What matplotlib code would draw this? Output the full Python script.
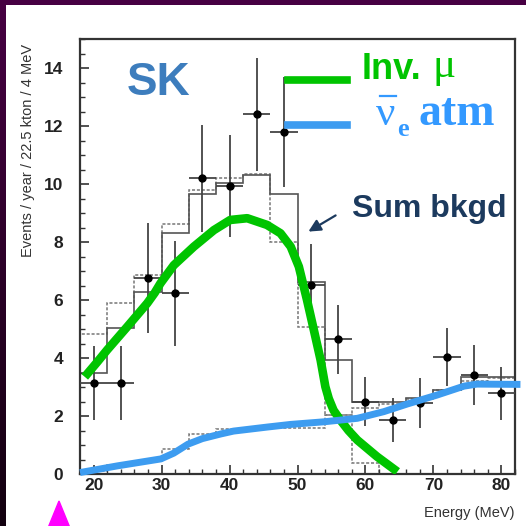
import numpy as np
import matplotlib
matplotlib.use("Agg")
import matplotlib.pyplot as plt
from matplotlib.lines import Line2D
from matplotlib.patches import Polygon

# ---------------- Data ----------------
bin_edges = np.arange(18, 83, 4)          # 4 MeV bins, 18..82
bin_centers = np.arange(20, 81, 4)

data_y = [3.13, 3.13, 6.75, 6.23, 10.2, 9.93, 12.4, 11.8,
          6.52, 4.64, 2.49, 1.86, 2.45, 4.04, 3.41, 2.78]
data_err = [1.27, 1.27, 1.9, 1.8, 1.85, 1.75, 1.95, 1.9,
            1.4, 1.2, 0.85, 0.75, 0.87, 1.0, 1.03, 0.92]

total_bkg = [3.48, 5.02, 6.29, 8.3, 9.65, 10.05, 10.3, 9.65,
             6.63, 3.93, 2.49, 2.49, 2.62, 2.9, 3.35, 3.35]
alt_bkg_edges = np.arange(18, 63, 4)
alt_bkg = [4.83, 5.9, 6.86, 8.62, 9.8, 10.2, 10.35, 8.0, 5.08, 2.03, 0.37]
atm_bkg = [0.1, 0.3, 0.45, 0.85, 1.38, 1.55, 1.6, 1.6,
           1.58, 2.03, 2.28, 2.4, 2.6, 2.9, 3.22, 3.3]

inv_mu_x = [18.7, 20.5, 22.0, 24.96, 27.9, 29.0, 29.85, 31.8, 34.75, 37.7,
            40.1, 42.6, 45.5, 47.5, 49.0, 50.2, 51.4, 52.4, 53.4, 54.1,
            54.6, 55.3, 56.3, 57.5, 58.8, 61.7, 64.7]
inv_mu_y = [3.35, 3.85, 4.28, 5.08, 5.89, 6.25, 6.58, 7.2, 7.84, 8.41,
            8.76, 8.82, 8.59, 8.3, 7.84, 7.15, 6.0, 4.97, 3.93, 3.01,
            2.6, 2.2, 1.86, 1.5, 1.17, 0.6, 0.08]

atm_x = [18.0, 23.5, 29.9, 31.8, 33.9, 36.0, 38.7, 40.6, 45.6, 49.0, 53.9,
         58.8, 62.7, 66.1, 70.5, 74.5, 76.4, 82.8]
atm_y = [0.05, 0.28, 0.52, 0.72, 1.03, 1.22, 1.38, 1.48, 1.62, 1.71, 1.80,
         1.92, 2.15, 2.41, 2.72, 3.03, 3.10, 3.09]

x_ticks = [20, 30, 40, 50, 60, 70, 80]
y_ticks = [0, 2, 4, 6, 8, 10, 12, 14]

GREEN = "#00c400"
BLUE = "#3d9cf0"
NU_BLUE = "#3399ff"
SANS = ["Liberation Sans", "DejaVu Sans"]
SERIF = ["Liberation Serif", "DejaVu Serif"]

W = 526.0
def fx(px):
    return px / W
def fy(py):
    return 1 - py / W

# ---------------- Figure ----------------
fig = plt.figure(figsize=(5.26, 5.26), dpi=100, facecolor="white")

# purple frame on top and left (left strip fades to near black)
top_ax = fig.add_axes([0, fy(4.5), 1, 4.5 / W])
top_ax.axis("off")
top_ax.add_patch(plt.Rectangle((0, 0), 1, 1, color="#470043", transform=top_ax.transAxes))
left_ax = fig.add_axes([0, 0, 5.5 / W, 1])
left_ax.axis("off")
grad = np.linspace(0, 1, 256).reshape(-1, 1)
cmap = matplotlib.colors.LinearSegmentedColormap.from_list("pb", ["#470043", "#12000f"])
left_ax.imshow(grad, aspect="auto", cmap=cmap, extent=(0, 1, 0, 1), origin="upper")

ax = fig.add_axes([fx(80), fy(474), 435 / W, 435 / W])
ax.set_xlim(18, 82)
ax.set_ylim(0, 15)

# histograms
ax.stairs(atm_bkg, bin_edges, color="#777777", lw=1.1, ls=(0, (2, 1.2)))
ax.stairs(alt_bkg, alt_bkg_edges, color="#777777", lw=1.1, ls=(0, (2, 1.2)))
ax.stairs(total_bkg, bin_edges, color="#555555", lw=1.2)

# data points
ax.errorbar(bin_centers, data_y, yerr=data_err, xerr=2, fmt="o", color="black",
            ecolor="#444444", elinewidth=1.3, markersize=5, capsize=0, zorder=4)

# model curves
ax.plot(inv_mu_x, inv_mu_y, color=GREEN, lw=6.2, solid_capstyle="butt",
        solid_joinstyle="round", zorder=5)
ax.plot(atm_x, atm_y, color=BLUE, lw=5.0, solid_capstyle="butt",
        solid_joinstyle="round", zorder=5, clip_on=False)

ax.set_xticks(x_ticks)
ax.set_yticks(y_ticks)
ax.set_xticks(np.arange(18, 83, 2), minor=True)
ax.set_yticks(np.arange(0, 15.01, 0.5), minor=True)
ax.tick_params(which="both", direction="in", top=False, right=False, color="#333333")
ax.tick_params(which="major", length=6.5, width=1.2)
ax.tick_params(which="minor", length=3.5, width=1.0)
ax.tick_params(axis="y", pad=12)
ax.tick_params(axis="x", pad=3)
for lbl in ax.get_xticklabels() + ax.get_yticklabels():
    lbl.set_fontfamily(SANS)
    lbl.set_fontweight("bold")
    lbl.set_fontsize(12.5)
    lbl.set_color("#222222")
for sp in ax.spines.values():
    sp.set_linewidth(1.6)
    sp.set_color("#333333")

# axis labels placed like the scanned figure
fig.text(fx(28), fy(150), "Events / year / 22.5 kton / 4 MeV", rotation=90,
         ha="center", va="center", fontsize=10.5, family=SANS, color="#333333")
fig.text(fx(515), fy(513), "Energy (MeV)", ha="right", va="center",
         fontsize=10.5, family=SANS, color="#333333")

# annotations
fig.text(fx(127), fy(95), "SK", fontsize=33, fontweight="bold", family=SANS,
         color="#3d7dbd", va="baseline")
fig.text(fx(362), fy(79), "Inv.", fontsize=26, fontweight="bold", family=SANS,
         color=GREEN, va="baseline")
fig.text(fx(432), fy(77), "μ", fontsize=31, family=SERIF, color=GREEN, va="baseline")

# upright nu with bar and bold subscript e, then "atm"
fig.text(fx(376), fy(125), "ν", fontsize=31, family=SERIF, color=NU_BLUE, va="baseline")
fig.add_artist(Line2D([fx(380), fx(396)], [fy(96), fy(96)], color=NU_BLUE, lw=1.6,
                      transform=fig.transFigure))
fig.text(fx(397), fy(136), "e", fontsize=19, fontweight="bold", family=SERIF,
         color=NU_BLUE, va="baseline")
fig.text(fx(418), fy(125), "atm", fontsize=33, fontweight="bold", family=SERIF,
         color=NU_BLUE, va="baseline")
fig.text(fx(352), fy(217), "Sum bkgd", fontsize=23, fontweight="bold", family=SANS,
         color="#1c3a5e", va="baseline")

fig.add_artist(Line2D([fx(288), fx(347)], [fy(80), fy(80)], color=GREEN, lw=5.5,
                      transform=fig.transFigure))
fig.add_artist(Line2D([fx(288), fx(347)], [fy(125), fy(125)], color=BLUE, lw=5.5,
                      transform=fig.transFigure))

fig.add_artist(matplotlib.patches.FancyArrowPatch(
    (fx(338), fy(214)), (fx(306), fy(233)), transform=fig.transFigure,
    arrowstyle="-|>", mutation_scale=18, lw=1.6, color="#1c3a5e"))

# magenta pointer at the bottom left
fig.add_artist(Polygon([[fx(59), fy(501)], [fx(48), fy(528)], [fx(70), fy(528)]],
                       closed=True, color="#ff00ff", transform=fig.transFigure))

fig.savefig("out.png", dpi=100, facecolor=fig.get_facecolor())
